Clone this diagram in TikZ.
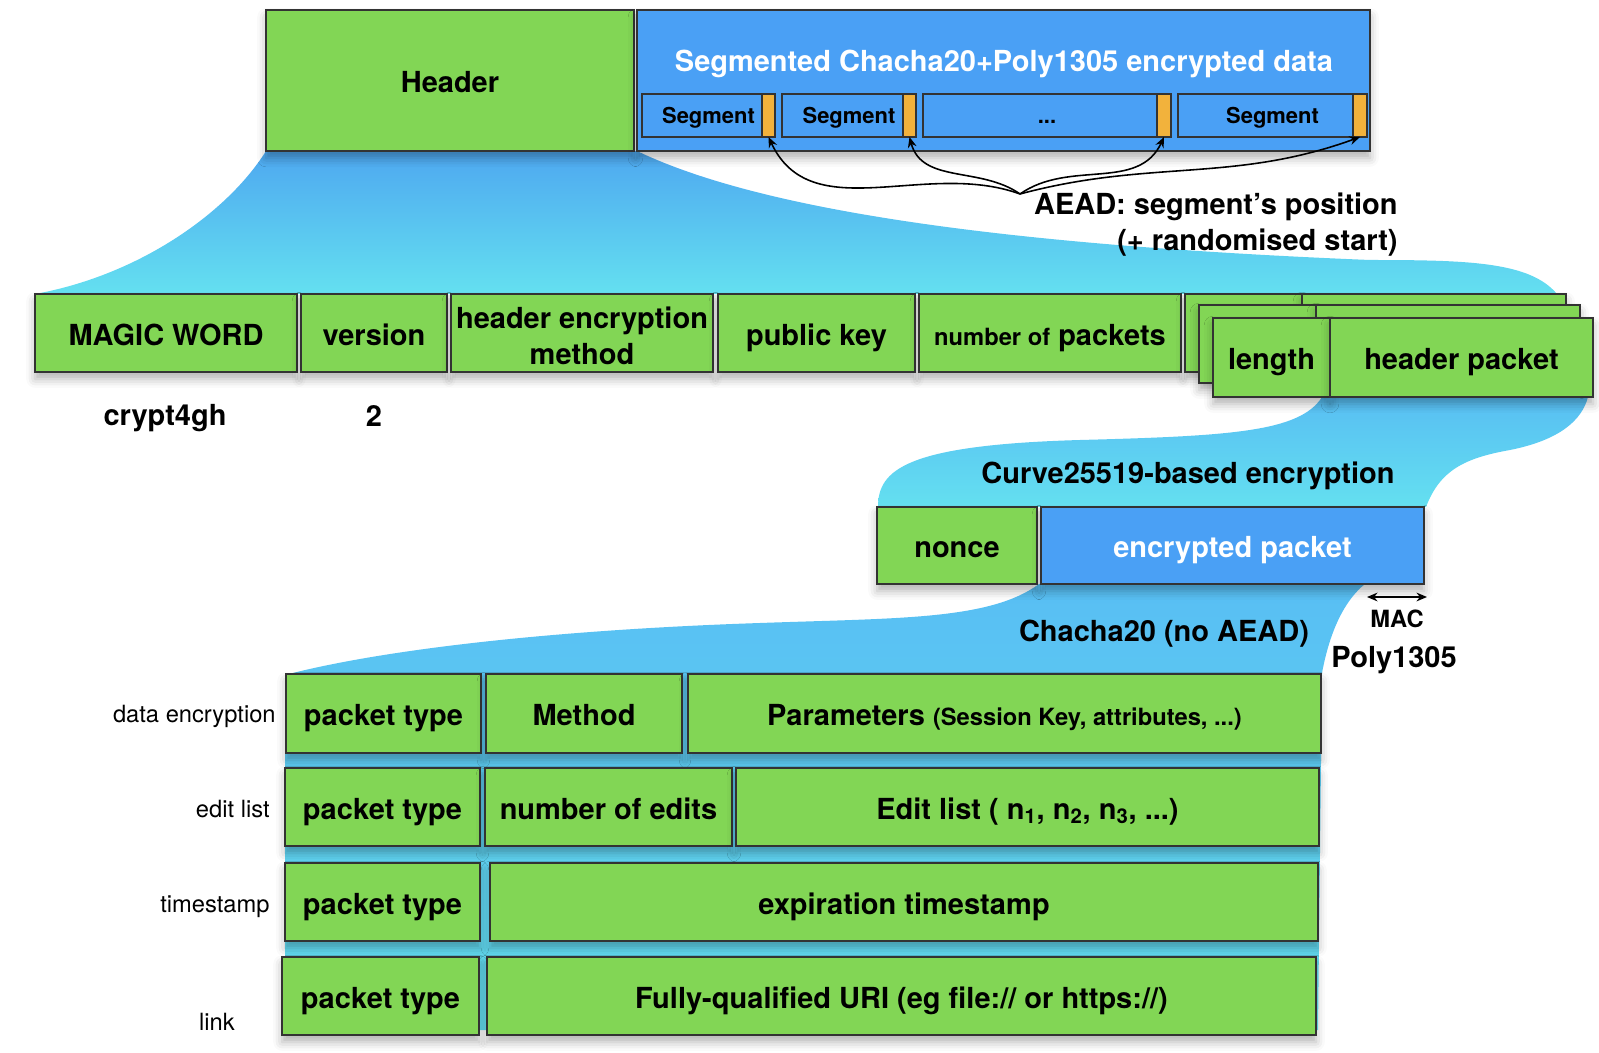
\documentclass[tikz,border=0pt]{standalone}
\usepackage{fontspec}
\setmainfont{TeX Gyre Heros}
\usetikzlibrary{arrows.meta,shadows.blur}
\definecolor{cellgreen}{RGB}{130,214,85}
\definecolor{cellblue}{RGB}{74,160,245}
\definecolor{tagorange}{RGB}{242,178,60}
\definecolor{flowtop}{RGB}{78,168,240}
\definecolor{flowmid}{RGB}{88,190,243}
\definecolor{flowbot}{RGB}{100,224,240}
\newcommand{\fbig}{\fontsize{16.5}{20.5}\selectfont\bfseries}
\newcommand{\fsmall}{\fontsize{13.5}{16}\selectfont}
\newcommand{\field}[7][]{\node[field,#1,minimum width={(#5-#3)*0.02cm},minimum height={(#6-#4)*0.02cm}] (#2) at ({(#3+#5)/2},{(#4+#6)/2}) {#7};}
\tikzset{>=Stealth,field/.style={draw=black!80,line width=.6pt,fill=cellgreen,inner sep=0pt,outer sep=0pt,align=center,font=\fbig,text height=16pt,text depth=2pt},lift/.style={blur shadow={shadow xshift=0pt,shadow yshift=-4pt,shadow blur radius=5pt,shadow opacity=30}},seg/.style={fill=cellblue,font=\fontsize{12.5}{15}\selectfont\bfseries,text height=11pt,text depth=2pt},tag/.style={fill=tagorange},side/.style={font=\fsmall,inner sep=0pt},aead/.style={-{Stealth[length=6pt,width=5pt]},line width=.9pt},dim/.style={{Stealth[length=6pt,width=5pt]}-{Stealth[length=6pt,width=5pt]},line width=.9pt}}

\begin{document}
\begin{tikzpicture}[x=.02cm,y=-.02cm]
\useasboundingbox (0,0) rectangle (1599,1053);
% funnels behind the boxes
\shade[top color=flowtop,bottom color=flowbot] (266,151) .. controls (228,212) and (140,275) .. (35,294) -- (1557,294) .. controls (1530,262) and (1470,260) .. (1370,260) .. controls (1000,245) and (760,210) .. (637,151) -- cycle;
\shade[top color=flowmid,bottom color=flowbot] (1322,397) .. controls (1300,432) and (1230,436) .. (1080,440) .. controls (905,445) and (878,470) .. (878,507) -- (1426,507) .. controls (1440,470) and (1465,458) .. (1510,450) .. controls (1560,440) and (1582,420) .. (1588,397) -- cycle;
\shade[top color=flowmid,bottom color=flowbot] (1039,584) .. controls (990,620) and (900,618) .. (760,623) .. controls (550,630) and (380,650) .. (285,675) -- (285,1030) -- (1318,1030) -- (1322,673) .. controls (1330,630) and (1345,600) .. (1365,584) -- cycle;
% top row
\field[lift]{header}{266}{10}{634}{151}{Header}
\field[lift,fill=cellblue]{data}{637}{10}{1370}{151}{}
\node[font=\fbig,text=white] (datatitle) at (1004,64) {Segmented Chacha20+Poly1305 encrypted data};
\field[seg]{seg1}{642}{94}{775}{137}{Segment}
\field[tag]{tag1}{762}{94}{775}{137}{}
\field[seg]{seg2}{782}{94}{916}{137}{Segment}
\field[tag]{tag2}{903}{94}{916}{137}{}
\field[seg]{seg3}{923}{94}{1171}{137}{...}
\field[tag]{tag3}{1157}{94}{1171}{137}{}
\field[seg]{seg4}{1178}{94}{1367}{137}{Segment}
\field[tag]{tag4}{1353}{94}{1367}{137}{}
\node[font=\fbig,anchor=east,align=right,inner sep=0pt] (aead) at (1398,225) {AEAD: segment’s position\\(+ randomised start)};
\coordinate (fork) at (1020,194);
\foreach \t/\o/\i in {tag1/160/-65,tag2/145/-75,tag3/35/-115,tag4/15/-160}{\draw[aead] (fork) to[out=\o,in=\i] (\t.south);}
% header fields
\field[lift]{magic}{35}{294}{297}{372}{MAGIC WORD}
\field[lift]{version}{301}{294}{447}{372}{version}
\field[lift]{hem}{451}{294}{713}{372}{}
\node[font=\fbig,align=center] (hemtext) at (582,336) {header encryption\\method};
\field[lift]{pubkey}{718}{294}{915}{372}{public key}
\field[lift]{npackets}{919}{294}{1181}{372}{{\fsmall number of} packets}
\field[lift]{lenA}{1185}{294}{1302}{372}{}
\field[lift]{pktA}{1302}{294}{1566}{372}{}
\field[lift]{lenB}{1199}{305}{1316}{383}{}
\field[lift]{pktB}{1316}{305}{1580}{383}{}
\field[lift]{len}{1213}{318}{1330}{397}{length}
\field[lift]{hpacket}{1330}{318}{1593}{397}{header packet}
\node[font=\fbig] (magicval) at (165,418) {crypt4gh};
\node[font=\fbig] (versionval) at (374,416) {2};
% header packet
\node[font=\fbig] (curve) at (1188,476) {Curve25519-based encryption};
\field[lift]{nonce}{877}{507}{1037}{584}{nonce}
\field[lift,fill=cellblue,text=white]{encpkt}{1041}{507}{1424}{584}{encrypted packet}
\coordinate (macL) at (1367,597);
\coordinate (macR) at (1427,597);
\draw[dim] (macL) -- (macR);
\node[font=\fsmall\bfseries] (mac) at (1397,619) {MAC};
\node[font=\fbig] (poly) at (1394,660) {Poly1305};
\node[font=\fbig] (chacha) at (1164,634) {Chacha20 (no AEAD)};
% packet types
\field[lift]{typeA}{286}{674}{481}{753}{packet type}
\field[lift]{method}{486}{674}{682}{753}{Method}
\field[lift]{params}{688}{674}{1321}{753}{Parameters {\fsmall(Session Key, attributes, ...)}}
\field[lift]{typeB}{285}{768}{480}{846}{packet type}
\field[lift]{nedits}{485}{768}{732}{846}{number of edits}
\field[lift]{edits}{736}{768}{1319}{846}{Edit list ( n\textsubscript{1}, n\textsubscript{2}, n\textsubscript{3}, ...)}
\field[lift]{typeC}{285}{863}{480}{941}{packet type}
\field[lift]{expiry}{490}{863}{1318}{941}{expiration timestamp}
\field[lift]{typeD}{282}{957}{479}{1035}{packet type}
\field[lift]{uri}{487}{957}{1316}{1035}{Fully-qualified URI (eg file:// or https://)}
\node[side,anchor=east] (sideA) at (276,716) {data encryption};
\node[side,anchor=east] (sideB) at (270,809) {edit list};
\node[side,anchor=east] (sideC) at (270,907) {timestamp};
\node[side] (sideD) at (217,1022) {link};
\end{tikzpicture}
\end{document}
